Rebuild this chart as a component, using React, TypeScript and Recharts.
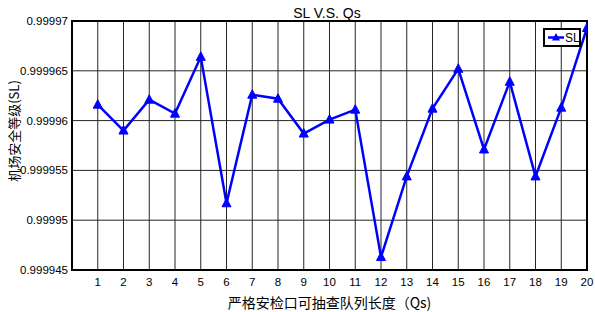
import {
  LineChart,
  Line,
  XAxis,
  YAxis,
  CartesianGrid,
  Legend,
  ReferenceArea,
} from 'recharts';

// Qs values on the x axis
const queueLengths = [1, 2, 3, 4, 5, 6, 7, 8, 9, 10, 11, 12, 13, 14, 15, 16, 17, 18, 19, 20];

// SL per Qs
const slValues = [
  0.9999616, 0.999959, 0.9999621, 0.9999607, 0.9999664, 0.9999517, 0.9999626, 0.9999622,
  0.9999587, 0.9999601, 0.9999611, 0.9999463, 0.9999544, 0.9999612, 0.9999652, 0.9999571,
  0.9999639, 0.9999544, 0.9999613, 0.9999693,
];

const yTicks = [0.999945, 0.99995, 0.999955, 0.99996, 0.999965, 0.99997];
const yTickLabels = ['0.999945', '0.99995', '0.999955', '0.99996', '0.999965', '0.99997'];

const data = queueLengths.map((q, i) => ({ qs: q, sl: slValues[i] }));

const LATIN = '"Liberation Sans", Arial, sans-serif';
const CJK = '"Noto Sans CJK SC", "Noto Sans", sans-serif';
const BLUE = '#0000ff';

const Triangle = (props: any) => {
  const { cx, cy } = props;
  if (cx == null || cy == null) return null;
  return (
    <polygon
      points={`${cx},${cy - 5} ${cx - 4.5},${cy + 3.5} ${cx + 4.5},${cy + 3.5}`}
      fill={BLUE}
      stroke={BLUE}
      strokeWidth={1}
    />
  );
};

const LegendBox = () => (
  <div
    style={{
      width: 34,
      height: 15,
      border: '2px solid #000',
      background: '#fff',
      boxSizing: 'content-box',
      position: 'relative',
    }}
  >
    <svg width={34} height={15} style={{ position: 'absolute', left: 0, top: 0 }}>
      <line x1={3} y1={7.5} x2={19} y2={7.5} stroke={BLUE} strokeWidth={2.5} />
      <polygon points="11,3 7,10.5 15,10.5" fill={BLUE} />
      <text x={20} y={12} fontFamily={LATIN} fontSize={12} fill="#000">
        SL
      </text>
    </svg>
  </div>
);

const YLabel = () => (
  <text
    x={13}
    y={131}
    transform="rotate(-90 13 131)"
    textAnchor="middle"
    dominantBaseline="central"
    fontFamily={CJK}
    fontSize={13}
    fill="#000"
  >
    机场安全等级(SL)
  </text>
);

export default function App() {
  return (
    <div style={{ position: 'absolute', left: 0, top: 0, width: 595, height: 312, background: '#fff' }}>
      <LineChart
        width={595}
        height={312}
        data={data}
        margin={{ top: 21, right: 8, bottom: 12, left: 0 }}
      >
        <CartesianGrid
          stroke="#262626"
          strokeWidth={1}
          horizontalValues={yTicks}
          verticalValues={queueLengths}
        />
        <XAxis
          dataKey="qs"
          type="number"
          domain={[0, 20]}
          ticks={queueLengths}
          height={30}
          axisLine={false}
          tickLine={false}
          tickSize={6}
          tickMargin={2}
          tick={{ fontFamily: LATIN, fontSize: 11.5, fill: '#000' }}
          label={{
            value: '严格安检口可抽查队列长度（Qs)',
            position: 'insideBottom',
            offset: -8,
            style: { fontFamily: CJK, fontSize: 14, fill: '#000' },
          }}
          allowDataOverflow
        />
        <YAxis
          type="number"
          domain={[yTicks[0], yTicks[yTicks.length - 1]]}
          ticks={yTicks}
          width={72}
          axisLine={false}
          tickLine={false}
          tickSize={4}
          tickMargin={0}
          tickFormatter={(v: number) => yTickLabels[yTicks.findIndex((t) => Math.abs(t - v) < 1e-9)] ?? String(v)}
          tick={{ fontFamily: LATIN, fontSize: 11.5, fill: '#000' }}
          allowDataOverflow
        />
        <ReferenceArea
          x1={0}
          x2={20}
          y1={yTicks[0]}
          y2={yTicks[yTicks.length - 1]}
          fill="none"
          stroke="#000"
          strokeWidth={2}
          ifOverflow="visible"
        />
        <Legend
          content={LegendBox}
          layout="horizontal"
          verticalAlign="middle"
          align="center"
          wrapperStyle={{ position: 'absolute', left: 543, top: 28, width: 38, height: 19 }}
        />
        <Line
          type="linear"
          dataKey="sl"
          name="SL"
          stroke={BLUE}
          strokeWidth={2.5}
          dot={<Triangle />}
          activeDot={false}
          isAnimationActive={false}
        />
        <text x={327} y={18} textAnchor="middle" fontFamily={LATIN} fontSize={14} fill="#000">
          SL V.S. Qs
        </text>
        <YLabel />
      </LineChart>
    </div>
  );
}
